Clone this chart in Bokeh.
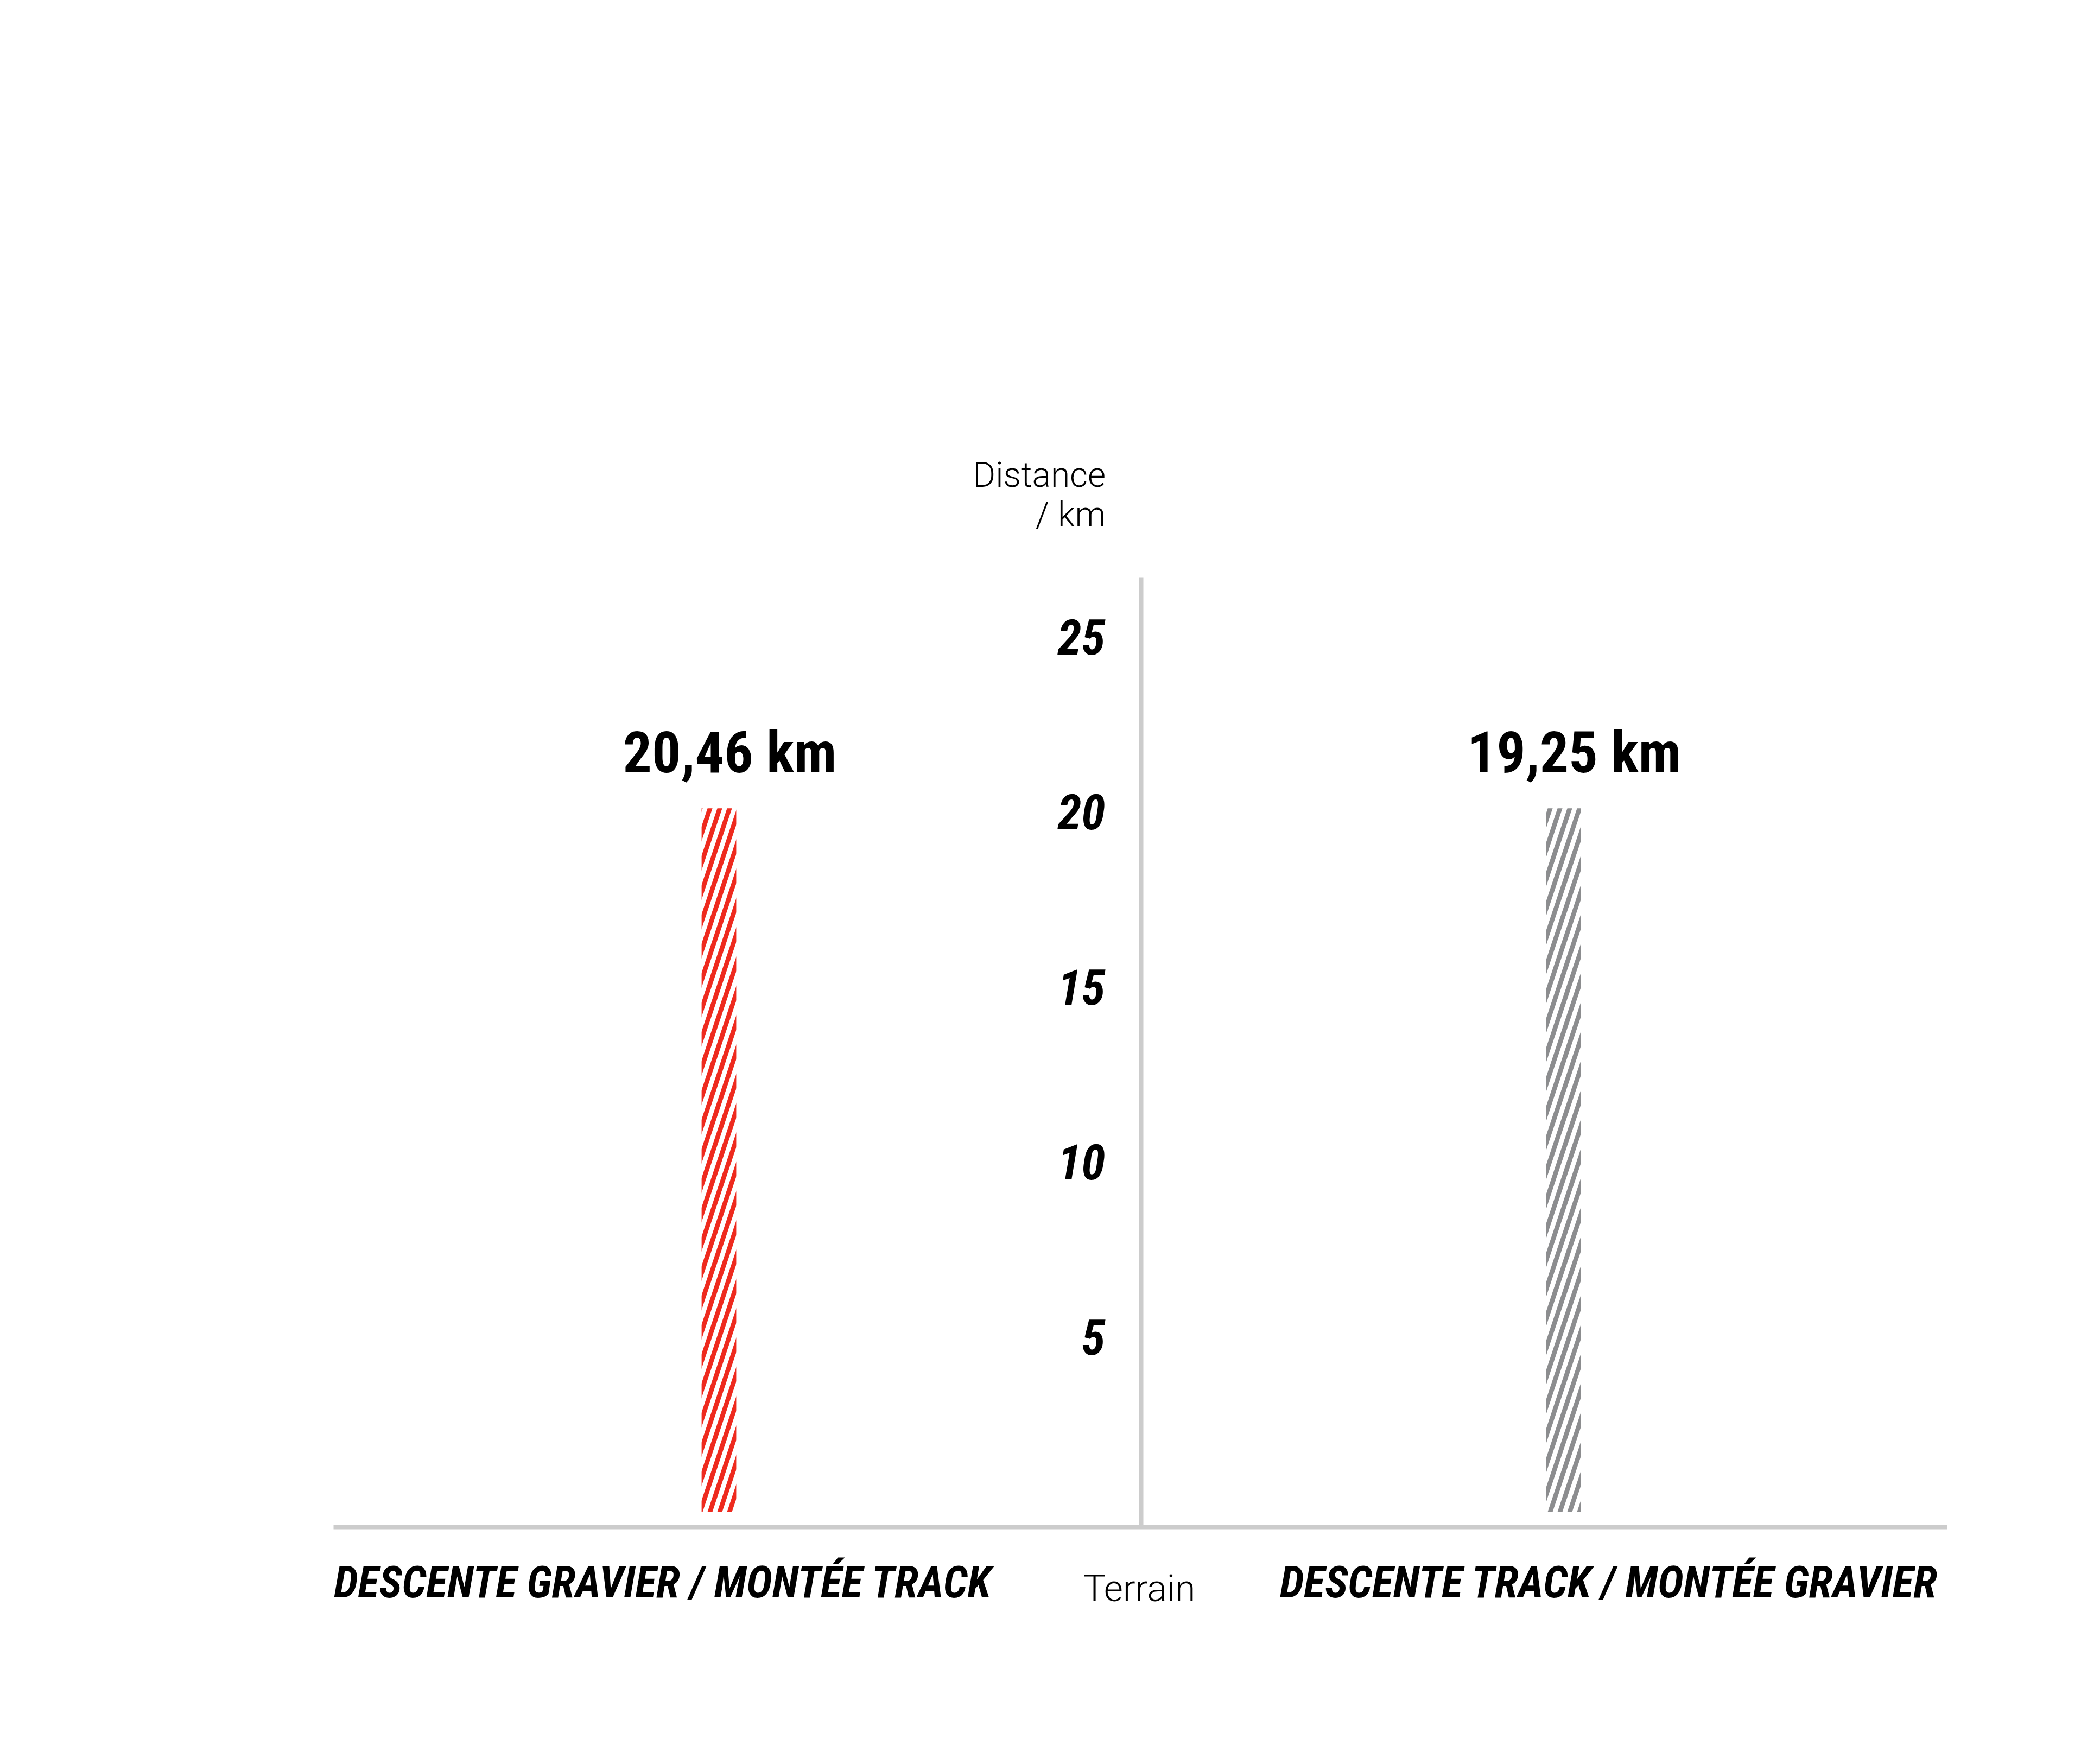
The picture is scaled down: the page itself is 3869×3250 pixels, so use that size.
import base64
from bokeh.plotting import figure
from bokeh.models import (Range1d, LinearAxis, FixedTicker, ColumnDataSource,
                          ImageURLTexture, Label)
from bokeh.core.properties import value
from bokeh.embed import file_html
from bokeh.resources import INLINE

# ---- data ----
categories = ["DESCENTE GRAVIER / MONTÉE TRACK", "DESCENTE TRACK / MONTÉE GRAVIER"]
distances_km = [20.46, 19.25]
distance_labels = ["20,46 km", "19,25 km"]
bar_heights = [20.1, 20.1]          # drawn bar heights
bar_colors = ["#EE2A1E", "#8C8D8F"]
y_ticks = [5, 10, 15, 20, 25]
y_title = ["Distance", "/ km"]
x_title = "Terrain"

COND = "Roboto Condensed"
LIGHT = "Roboto Light"
AXIS_GREY = "#cccccc"


def stripe_tile(color):
    svg = ('<svg xmlns="http://www.w3.org/2000/svg" width="18" height="54">'
           f'<polygon points="0,54 9,54 27,0 18,0" fill="{color}"/>'
           f'<polygon points="-18,54 -9,54 9,0 0,0" fill="{color}"/>'
           '</svg>')
    return "data:image/svg+xml;base64," + base64.b64encode(svg.encode()).decode()


pattern_names = [f"stripe{i}" for i in range(len(bar_colors))]
textures = {n: ImageURLTexture(url=stripe_tile(c)) for n, c in zip(pattern_names, bar_colors)}

# category slot positions on the x scale (left/right of the central axis)
bar_x = [i - 0.5 for i in range(len(categories))]
label_x = [round(1.12 * v - 0.006, 3) for v in bar_x]

src = ColumnDataSource(dict(x=bar_x, top=bar_heights, color=bar_colors,
                            pattern=pattern_names, label=distance_labels))

p = figure(width=3853, height=3234,
           x_range=Range1d(-1.3509, 1.1253), y_range=Range1d(-6.962, 43.185),
           x_axis_type=None, y_axis_type=None,
           output_backend="svg", toolbar_location=None,
           min_border=0)
p.outline_line_color = None
p.background_fill_color = "white"
p.border_fill_color = "white"

p.vbar(x="x", top="top", bottom=0, width=0.041, source=src,
       fill_alpha=0, line_alpha=0,
       hatch_pattern="pattern", hatch_extra=textures,
       hatch_color="color", hatch_alpha=1.0)

p.text(x="x", y="top", text="label", source=src,
       x_offset=20, y_offset=-102,
       text_align="center", text_baseline="alphabetic",
       text_font=value(COND), text_font_style="bold",
       text_font_size="106px", text_color="black")

# central y axis
yaxis = LinearAxis(fixed_location=0, bounds=(-0.434, 26.7),
                   ticker=FixedTicker(ticks=y_ticks),
                   axis_line_color=AXIS_GREY, axis_line_width=8,
                   major_tick_line_color=None, minor_tick_line_color=None,
                   major_tick_out=0, major_tick_in=0,
                   major_label_standoff=66,
                   major_label_text_font=COND,
                   major_label_text_font_style="bold italic",
                   major_label_text_font_size="90px",
                   major_label_text_color="black")
p.add_layout(yaxis, "left")

# bottom category axis
xaxis = LinearAxis(fixed_location=-0.434, bounds=(-0.9563, 0.9544),
                   ticker=FixedTicker(ticks=label_x),
                   major_label_overrides={lx: c for lx, c in zip(label_x, categories)},
                   axis_line_color=AXIS_GREY, axis_line_width=8,
                   major_tick_line_color=None, minor_tick_line_color=None,
                   major_tick_out=0, major_tick_in=0,
                   major_label_standoff=54,
                   major_label_text_font=COND,
                   major_label_text_font_style="bold italic",
                   major_label_text_font_size="81px",
                   major_label_text_color="black")
p.add_layout(xaxis, "below")

# axis titles
for txt, yy in zip(y_title, [29.61, 28.49]):
    p.add_layout(Label(x=-0.042, y=yy, text=txt, text_align="right",
                       text_baseline="alphabetic", text_font=LIGHT,
                       text_font_size="64px", text_color="black"))
p.add_layout(Label(x=-0.002, y=-2.2, text=x_title, text_align="center",
                   text_baseline="alphabetic", text_font=LIGHT,
                   text_font_size="68px", text_color="black"))

open("out.html", "w").write(file_html(p, INLINE))
